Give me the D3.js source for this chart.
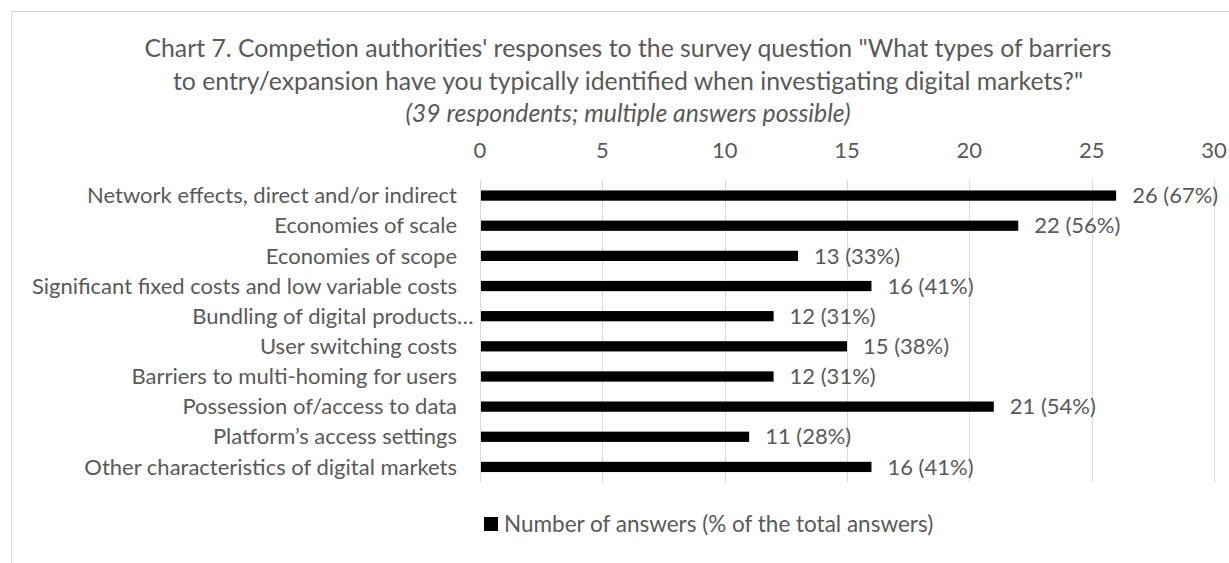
<!DOCTYPE html>
<html>
<head>
<meta charset="utf-8">
<script src="https://cdn.jsdelivr.net/npm/d3@7"></script>
<style>
  body { margin: 0; background: #fff; }
  svg { display: block; font-family: Lato, "Open Sans", sans-serif; }
</style>
</head>
<body>
<script>
const titleLines = [
  "Chart 7. Competion authorities' responses to the survey question \"What types of barriers",
  "to entry/expansion have you typically identified when investigating digital markets?\""
];
const subtitle = "(39 respondents; multiple answers possible)";
const categories = [
  "Network effects, direct and/or indirect",
  "Economies of scale",
  "Economies of scope",
  "Significant fixed costs and low variable costs",
  "Bundling of digital products",
  "User switching costs",
  "Barriers to multi-homing for users",
  "Possession of/access to data",
  "Platform\u2019s access settings",
  "Other characteristics of digital markets"
];
const truncated = ["Bundling of digital products"];
const answers = [26, 22, 13, 16, 12, 15, 12, 21, 11, 16];
const shares = ["67%", "56%", "33%", "41%", "31%", "38%", "31%", "54%", "28%", "41%"];
const ticks = [0, 5, 10, 15, 20, 25, 30];
const legendLabel = "Number of answers (% of the total answers)";

const width = 1229, height = 563;
const textColor = "#595959", gridColor = "#d9d9d9";

const svg = d3.select("body").append("svg")
  .attr("width", width)
  .attr("height", height);

// chart area border (runs off the right and bottom edges)
svg.append("rect")
  .attr("x", 11.5).attr("y", 11.5)
  .attr("width", width + 20).attr("height", height + 20)
  .attr("fill", "#fff")
  .attr("stroke", gridColor);

const x = d3.scaleLinear().domain([0, 30]).range([480, 1214]);
const y = d3.scaleBand().domain(categories).range([180.5, 482]).paddingInner(0.66).paddingOuter(0.33);

// title
svg.append("g")
  .selectAll("text")
  .data(titleLines)
  .join("text")
  .attr("x", 628)
  .attr("y", (d, i) => 48 + i * 33)
  .attr("dy", "0.35em")
  .attr("text-anchor", "middle")
  .attr("fill", textColor)
  .style("font-size", "24.8px")
  .text(d => d);

svg.append("text")
  .attr("x", 628)
  .attr("y", 113)
  .attr("dy", "0.35em")
  .attr("text-anchor", "middle")
  .attr("fill", textColor)
  .style("font-size", "24.8px")
  .style("font-style", "italic")
  .text(subtitle);

// gridlines + top tick labels
const grid = svg.append("g");
grid.selectAll("line")
  .data(ticks)
  .join("line")
  .attr("x1", d => Math.round(x(d)) + 0.5)
  .attr("x2", d => Math.round(x(d)) + 0.5)
  .attr("y1", 180)
  .attr("y2", 482)
  .attr("stroke", gridColor)
  .attr("stroke-width", 1);

grid.selectAll("text")
  .data(ticks)
  .join("text")
  .attr("x", d => x(d))
  .attr("y", 150)
  .attr("dy", "0.35em")
  .attr("text-anchor", "middle")
  .attr("fill", textColor)
  .style("font-size", "22px")
  .text(d => d);

// bars
svg.append("g")
  .selectAll("rect")
  .data(categories)
  .join("rect")
  .attr("x", x(0) + 1)
  .attr("y", d => y(d))
  .attr("width", (d, i) => x(answers[i]) - x(0) - 1)
  .attr("height", y.bandwidth())
  .attr("fill", "#000");

// category labels
const labels = svg.append("g")
  .attr("fill", textColor)
  .style("font-size", "22px");
labels.selectAll("text.cat")
  .data(categories)
  .join("text")
  .attr("class", "cat")
  .attr("x", 457)
  .attr("y", d => y(d) + y.bandwidth() / 2)
  .attr("dy", "0.35em")
  .attr("text-anchor", "end")
  .text(d => d);
// Excel's ellipsis on the clipped label hangs past the label edge
labels.selectAll("text.ell")
  .data(truncated)
  .join("text")
  .attr("class", "ell")
  .attr("x", 457)
  .attr("y", d => y(d) + y.bandwidth() / 2)
  .attr("dy", "0.35em")
  .text("\u2026");

// value labels
svg.append("g")
  .selectAll("text")
  .data(categories)
  .join("text")
  .attr("x", (d, i) => x(answers[i]) + 16)
  .attr("y", d => y(d) + y.bandwidth() / 2)
  .attr("dy", "0.35em")
  .attr("fill", textColor)
  .style("font-size", "22px")
  .text((d, i) => `${answers[i]} (${shares[i]})`);

// legend
const legend = svg.append("g").attr("transform", "translate(484,524)");
legend.append("rect")
  .attr("x", 0).attr("y", -7)
  .attr("width", 14).attr("height", 14)
  .attr("fill", "#000");
legend.append("text")
  .attr("x", 20)
  .attr("dy", "0.35em")
  .attr("fill", textColor)
  .style("font-size", "22.5px")
  .text(legendLabel);
</script>
</body>
</html>
